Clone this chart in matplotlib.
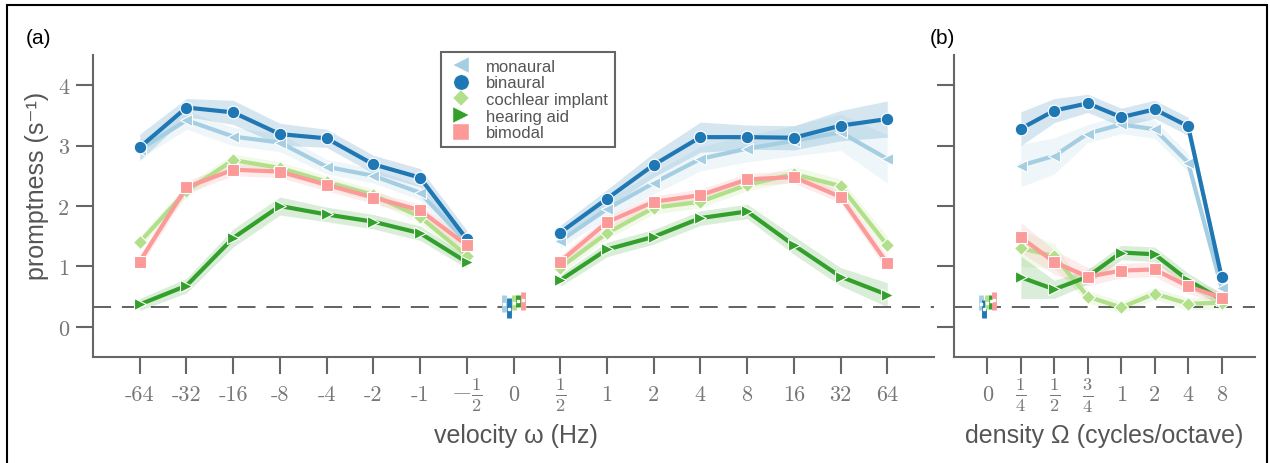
import numpy as np
import matplotlib
matplotlib.use('Agg')
import matplotlib.pyplot as plt
from matplotlib.lines import Line2D
from matplotlib.patches import Rectangle

plt.rcParams['mathtext.fontset'] = 'cm'
plt.rcParams['font.family'] = ['Liberation Sans', 'DejaVu Sans']

# groups / style
groups = ['monaural', 'binaural', 'cochlear implant', 'hearing aid', 'bimodal']
colors = ['#a6cee3', '#1f78b4', '#b2df8a', '#33a02c', '#fb9a99']
markers = ['<', 'o', 'D', '>', 's']

# tick labels
vel_labels = ['-64', '-32', '-16', '-8', '-4', '-2', '-1', r'$-\frac{1}{2}$', '0',
              r'$\frac{1}{2}$', '1', '2', '4', '8', '16', '32', '64']
dens_labels = ['0', r'$\frac{1}{4}$', r'$\frac{1}{2}$', r'$\frac{3}{4}$', '1', '2', '4', '8']

# (a) velocity: 16 values, -64 .. -1/2 then 1/2 .. 64
mon_vel = [2.93, 3.42, 3.15, 3.05, 2.65, 2.50, 2.22, 1.40, 1.42, 1.95, 2.38, 2.78, 2.95, 3.08, 3.22, 2.78]
bin_vel = [2.97, 3.63, 3.55, 3.19, 3.12, 2.69, 2.47, 1.45, 1.56, 2.12, 2.68, 3.14, 3.14, 3.13, 3.33, 3.44]
ci_vel  = [1.40, 2.25, 2.76, 2.63, 2.40, 2.18, 1.82, 1.18, 0.98, 1.55, 1.97, 2.07, 2.35, 2.53, 2.33, 1.35]
ha_vel  = [0.37, 0.68, 1.47, 2.00, 1.86, 1.74, 1.55, 1.07, 0.77, 1.28, 1.49, 1.80, 1.91, 1.35, 0.83, 0.53]
bim_vel = [1.08, 2.31, 2.60, 2.57, 2.35, 2.14, 1.93, 1.35, 1.08, 1.73, 2.07, 2.18, 2.44, 2.48, 2.15, 1.05]

mon_vel_err = [0.15, 0.15, 0.15, 0.15, 0.12, 0.12, 0.12, 0.12, 0.12, 0.15, 0.18, 0.2, 0.22, 0.25, 0.3, 0.4]
bin_vel_err = [0.22, 0.15, 0.2, 0.18, 0.15, 0.15, 0.15, 0.15, 0.12, 0.15, 0.2, 0.25, 0.2, 0.2, 0.25, 0.3]
ci_vel_err  = [0.1, 0.1, 0.1, 0.1, 0.1, 0.1, 0.1, 0.1, 0.1, 0.1, 0.1, 0.1, 0.1, 0.12, 0.12, 0.15]
ha_vel_err  = [0.1, 0.12, 0.15, 0.15, 0.12, 0.12, 0.12, 0.1, 0.1, 0.12, 0.12, 0.12, 0.12, 0.15, 0.15, 0.2]
bim_vel_err = [0.1, 0.1, 0.1, 0.1, 0.1, 0.1, 0.1, 0.1, 0.1, 0.1, 0.1, 0.1, 0.1, 0.1, 0.1, 0.12]

# (b) density: 1/4 .. 8
mon_den = [2.67, 2.83, 3.20, 3.35, 3.27, 2.72, 0.65]
bin_den = [3.28, 3.58, 3.70, 3.47, 3.60, 3.32, 0.83]
ci_den  = [1.30, 1.17, 0.50, 0.32, 0.55, 0.38, 0.40]
ha_den  = [0.82, 0.62, 0.83, 1.23, 1.20, 0.77, 0.45]
bim_den = [1.48, 1.07, 0.83, 0.93, 0.95, 0.67, 0.48]

mon_den_err = [0.35, 0.3, 0.15, 0.15, 0.15, 0.15, 0.1]
bin_den_err = [0.28, 0.2, 0.15, 0.15, 0.15, 0.15, 0.1]
ci_den_err  = [0.3, 0.2, 0.1, 0.1, 0.1, 0.1, 0.1]
ha_den_err  = [0.35, 0.15, 0.12, 0.12, 0.12, 0.12, 0.1]
bim_den_err = [0.25, 0.2, 0.15, 0.12, 0.12, 0.12, 0.1]

# static (0) condition: low / mean / high per group
vel_zero_lo  = [0.25, 0.15, 0.28, 0.32, 0.28]
vel_zero_mid = [0.38, 0.30, 0.40, 0.43, 0.45]
vel_zero_hi  = [0.53, 0.47, 0.52, 0.53, 0.58]
den_zero_lo  = [0.27, 0.15, 0.30, 0.30, 0.28]
den_zero_mid = [0.38, 0.30, 0.40, 0.42, 0.45]
den_zero_hi  = [0.52, 0.45, 0.52, 0.53, 0.58]

chance = 0.33

vel_sets = [(mon_vel, mon_vel_err), (bin_vel, bin_vel_err), (ci_vel, ci_vel_err),
            (ha_vel, ha_vel_err), (bim_vel, bim_vel_err)]
den_sets = [(mon_den, mon_den_err), (bin_den, bin_den_err), (ci_den, ci_den_err),
            (ha_den, ha_den_err), (bim_den, bim_den_err)]

grey = '#666666'


def draw_line(ax, xs, ys, es, color, marker):
    ys = np.array(ys)
    es = np.array(es)
    ax.fill_between(xs, ys - es, ys + es, color=color, alpha=0.18, lw=0)
    ax.plot(xs, ys, color=color, lw=3, marker=marker, ms=9 if marker != 'D' else 7,
            mec='white', mew=0.8)


def draw_zero(ax, x0, lo, mid, hi):
    offs = x0 + np.linspace(-0.2, 0.2, 5)
    for k in range(5):
        ax.vlines(offs[k], lo[k], hi[k], color=colors[k], lw=3.5, zorder=3)
        ax.plot(offs[k], mid[k], 's', color='white', ms=1.5, zorder=4)


def style_axis(ax, labels, xlim):
    ax.set_xlim(*xlim)
    ax.set_ylim(-0.5, 4.5)
    for s in ['top', 'right']:
        ax.spines[s].set_visible(False)
    for s in ['left', 'bottom']:
        ax.spines[s].set_color(grey)
        ax.spines[s].set_linewidth(1.5)
    ax.set_yticks([0, 1, 2, 3, 4])
    ax.set_yticklabels(['0', '1', '2', '3', '4'], family='cmr10')
    ax.set_xticks(np.arange(len(labels)))
    ax.set_xticklabels(labels)
    ax.tick_params(direction='out', length=12, width=1.5, color=grey,
                   labelsize=16, labelcolor='#777777')
    ax.tick_params(axis='y', pad=5)
    ax.tick_params(axis='x', pad=15)
    for lbl in ax.get_xticklabels():
        lbl.set_verticalalignment('center')
        if lbl.get_text().startswith('$'):
            lbl.set_fontsize(19)
        else:
            lbl.set_family('cmr10')
    ax.axhline(chance, color='#555555', lw=1.3, dashes=(10, 6), zorder=1)


fig = plt.figure(figsize=(12.7, 4.64), dpi=100)
ax1 = fig.add_axes([93 / 1270, 1 - 358 / 464, 841 / 1270, 302 / 464])
ax2 = fig.add_axes([954 / 1270, 1 - 358 / 464, 301 / 1270, 302 / 464])

# panel (a)
idx = np.arange(17)
neg = idx[:8]
pos = idx[9:]
for k, (vals, errs) in enumerate(vel_sets):
    draw_line(ax1, neg, vals[:8], errs[:8], colors[k], markers[k])
    draw_line(ax1, pos, vals[8:], errs[8:], colors[k], markers[k])
draw_zero(ax1, 8, vel_zero_lo, vel_zero_mid, vel_zero_hi)
style_axis(ax1, vel_labels, (-1, 17))

# panel (b)
didx = np.arange(1, 8)
for k, (vals, errs) in enumerate(den_sets):
    draw_line(ax2, didx, vals, errs, colors[k], markers[k])
draw_zero(ax2, 0, den_zero_lo, den_zero_mid, den_zero_hi)
style_axis(ax2, dens_labels, (-1, 8))
ax2.tick_params(axis='y', labelleft=False)

ax1.set_ylabel('promptness (s⁻¹)', fontsize=18, color='#555555')
ax1.yaxis.set_label_coords(-0.052, 0.57)
ax1.set_xlabel('velocity ω (Hz)', fontsize=18, color='#555555')
ax1.xaxis.set_label_coords(0.503, -0.22)
ax2.set_xlabel('density Ω (cycles/octave)', fontsize=18, color='#555555')
ax2.xaxis.set_label_coords(0.50, -0.22)

handles = [Line2D([], [], ls='none', marker=markers[k], color=colors[k],
                  ms=11 if markers[k] != 'D' else 8.5, mec='white', mew=0.3)
           for k in range(5)]
leg = fig.legend(handles, groups, loc='upper left',
                 bbox_to_anchor=(441 / 1270, 1 - 53 / 464), bbox_transform=fig.transFigure,
                 fontsize=12, frameon=True, fancybox=False, framealpha=1,
                 handlelength=1.6, handletextpad=0.7, labelspacing=0.1,
                 borderaxespad=0, borderpad=0.4)
leg.get_frame().set_edgecolor(grey)
leg.get_frame().set_linewidth(1.5)
for t in leg.get_texts():
    t.set_color('#555555')

fig.text(26 / 1270, 1 - 38 / 464, '(a)', fontsize=15, va='center')
fig.text(930 / 1270, 1 - 38 / 464, '(b)', fontsize=15, va='center')

fig.add_artist(Rectangle((7 / 1270, -0.05), 1260 / 1270, 1.05 - 6 / 464,
                         transform=fig.transFigure, fill=False, ec='black', lw=1.5,
                         clip_on=False))

fig.savefig('out.png', dpi=100)
